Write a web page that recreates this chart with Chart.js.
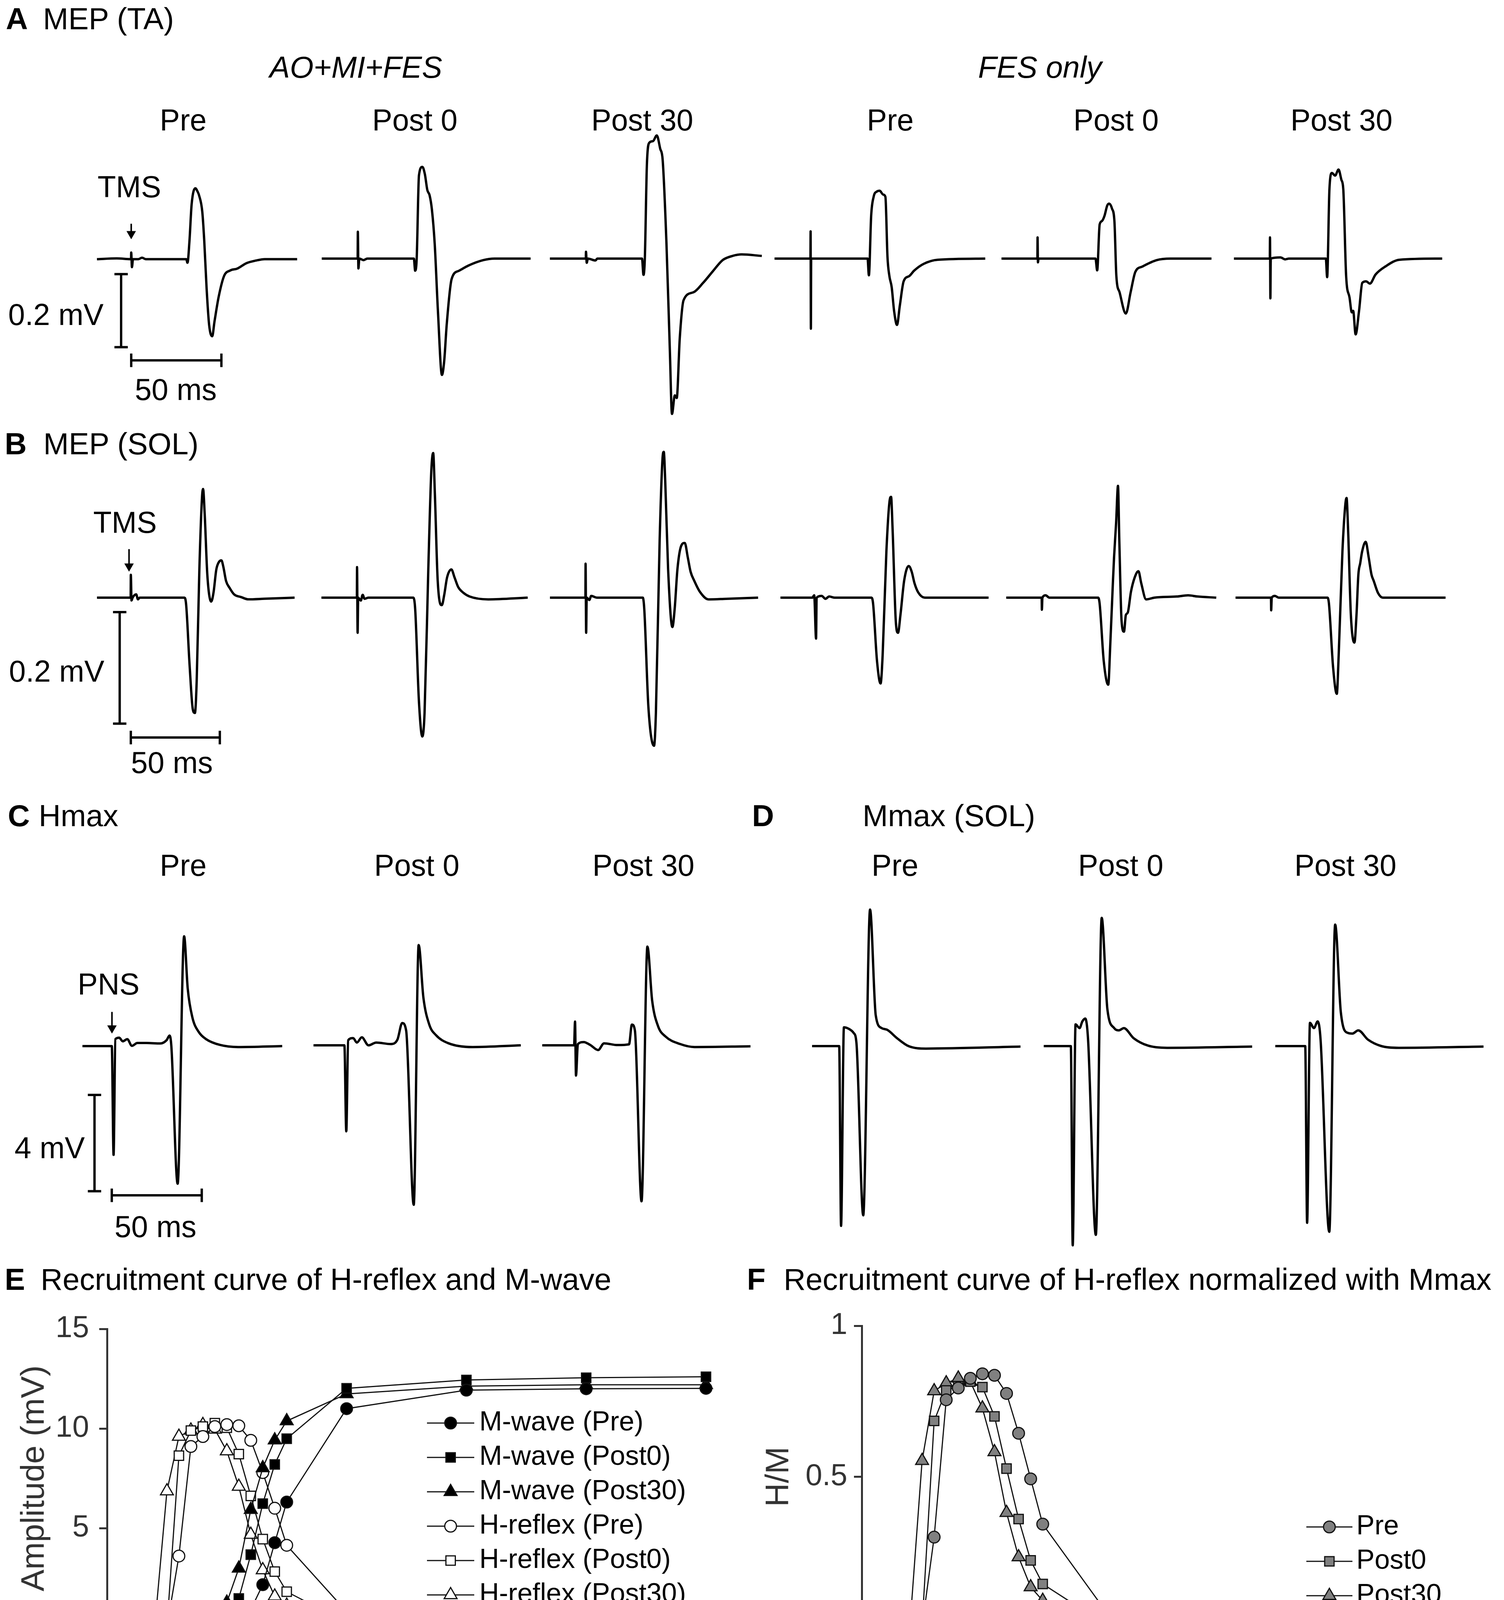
<!DOCTYPE html>
<html>
<head>
<meta charset="utf-8">
<script src="https://cdn.jsdelivr.net/npm/chart.js@4.4.1/dist/chart.umd.min.js"></script>
<style>
  html, body { margin: 0; padding: 0; background: #fff; }
  #page { position: relative; width: 3850px; height: 5625px; overflow: hidden; background: #fff;
          font-family: "Liberation Sans", Arial, Helvetica, sans-serif; }
  #page canvas { position: absolute; }
  .txt { position: absolute; white-space: nowrap; line-height: 1; color: #000; }
</style>
</head>
<body>
<div id="page"></div>
<script>
// ---- traces: [time after stimulus (ms), amplitude (mV)] ----
// A  MEP (TA)
const taAoPre = [[-19,0],[-8,0.002],[-0.1,0],[0,0.018],[0.4,-0.022],[1,0],[4,0],[6,0.004],[8,0],[30.5,0],[31.2,-0.01],[32.3,0.05],[33.5,0.15],[35.6,0.194],[36.8,0.185],[37.6,0.175],[39.4,0.13],[40.5,0.05],[41.8,-0.08],[43.2,-0.18],[44.9,-0.211],[46.2,-0.17],[48.5,-0.103],[51.5,-0.046],[54.9,-0.031],[58.7,-0.026],[63.9,-0.011],[69,-0.004],[74,0],[92,0]];
const taAoPost0 = [[-19,0],[-0.1,0],[0,0.071],[0.3,-0.026],[0.8,0],[3,-0.004],[5,0],[29.5,0],[30.2,-0.032],[31,0],[32.2,0.22],[34,0.242],[35.3,0.223],[36.6,0.181],[37.8,0.167],[39,0.13],[40.5,0.038],[42.2,-0.14],[44.3,-0.307],[45.5,-0.27],[46.8,-0.175],[49.4,-0.054],[53.3,-0.032],[58.4,-0.018],[66.1,-0.004],[72,0],[91,0]];
const taAoPost30 = [[-19,0],[-0.1,0],[0,0.018],[0.4,-0.011],[1,0],[5,-0.005],[6,0],[29.5,0],[30.3,-0.043],[31,0],[32.1,0.25],[33.4,0.306],[35.3,0.31],[37.3,0.325],[39.1,0.29],[40.4,0.26],[42.4,0.039],[44.2,-0.246],[45.3,-0.41],[46.8,-0.361],[47.8,-0.368],[49.4,-0.21],[51.4,-0.11],[56.6,-0.089],[61.7,-0.064],[66.9,-0.033],[72,-0.004],[77.2,0.007],[82,0.011],[92.6,0.007]];
const taFesPre = [[-19,0],[-0.1,0],[0,0.072],[0.15,-0.185],[0.3,0],[30,0],[30.7,-0.044],[31.9,0.113],[33.2,0.163],[34.9,0.177],[36.4,0.179],[38.2,0.169],[39.4,0.163],[40.5,0.004],[41.5,-0.046],[42.7,-0.075],[44,-0.139],[45.5,-0.175],[47,-0.124],[49,-0.06],[52,-0.046],[54.5,-0.032],[59.5,-0.014],[67,-0.003],[92,0]];
const taFesPost0 = [[-19,0],[-0.1,0],[0,0.056],[0.2,-0.01],[0.5,0],[30.5,0],[31.4,-0.031],[32.7,0.09],[33.9,0.099],[35.2,0.112],[36.7,0.14],[37.7,0.145],[39.2,0.132],[40.5,0.097],[41.5,-0.046],[43.2,-0.089],[46.5,-0.145],[49,-0.089],[51.5,-0.035],[55.2,-0.021],[62.8,-0.004],[70,0],[91.6,0]];
const taFesPost30 = [[-19,0],[-0.1,0],[0,0.056],[0.2,-0.105],[0.4,0],[5.5,0.003],[8,-0.002],[10,0],[29.4,0],[30.1,-0.049],[31.3,0.183],[32.6,0.226],[34.3,0.219],[36.1,0.235],[37.6,0.208],[38.6,0.183],[40.1,-0.046],[41.9,-0.103],[43.1,-0.142],[43.8,-0.138],[45.1,-0.2],[46.9,-0.138],[48.6,-0.064],[50.6,-0.06],[52.6,-0.066],[55.6,-0.042],[60.7,-0.021],[68.2,-0.003],[90.7,0]];

// B  MEP (SOL)
const solAoPre = [[-19,0],[-0.1,0],[0,0.041],[0.4,-0.005],[1,0],[3,0.006],[4,-0.003],[5,0],[30,0],[31,-0.01],[33,-0.12],[34.8,-0.2],[36,-0.207],[37,-0.15],[38.5,0.05],[40,0.18],[40.6,0.195],[41.5,0.15],[43,0.04],[45.2,-0.007],[46.5,0.01],[48,0.05],[49.5,0.064],[50.9,0.067],[52,0.055],[53.5,0.03],[55.6,0.017],[58,0.006],[62,0.001],[66,-0.003],[75,-0.002],[92,0]];
const solAoPost0 = [[-19,0],[-0.1,0],[0,0.053],[0.3,-0.061],[0.6,0],[2,-0.005],[3,0.005],[4,-0.002],[6,0],[30,0],[31,-0.02],[33,-0.18],[34.8,-0.241],[36,-0.2],[38,0.05],[39.6,0.22],[40.6,0.251],[41.5,0.18],[43,0.03],[45.2,-0.013],[46.5,0.005],[48,0.035],[50.3,0.049],[52,0.035],[54,0.018],[56.5,0.009],[60,0.002],[70,-0.003],[91,0]];
const solAoPost30 = [[-19,0],[-0.1,0],[0,0.059],[0.3,-0.061],[0.6,0],[2,-0.004],[3,0.003],[6,0],[30.5,0],[31.3,-0.02],[33.5,-0.19],[36.5,-0.257],[37.5,-0.2],[39.5,0.1],[41,0.24],[41.7,0.253],[42.5,0.2],[44,0.05],[46.3,-0.051],[47.5,-0.02],[49,0.05],[51,0.09],[52.9,0.095],[54.5,0.07],[56,0.045],[58,0.029],[61,0.01],[65.6,-0.003],[75,-0.002],[92,0]];
const solFesPre = [[-19,0],[-2,0],[-1,0.004],[0,-0.071],[0.3,0],[3,0.003],[5,-0.002],[7,0.002],[10,0],[29.5,0],[30.4,-0.01],[32.5,-0.11],[34.4,-0.149],[35.5,-0.1],[37.5,0.08],[39.3,0.17],[40,0.175],[40.8,0.12],[42.5,-0.04],[43.7,-0.061],[45,-0.03],[47,0.03],[49.4,0.055],[51,0.045],[52.5,0.025],[54.5,0.009],[58,0],[92,0]];
const solFesPost0 = [[-19,0],[-0.1,0],[0,-0.021],[0.3,0],[2,0.004],[4,0],[30,0],[30.8,-0.01],[33,-0.11],[35.4,-0.151],[36.5,-0.08],[37.8,0.02],[38.5,0.07],[39.6,0.13],[40.6,0.194],[41.3,0.1],[42.5,-0.04],[43.8,-0.059],[44.8,-0.03],[45.8,-0.026],[47.5,0.01],[49.5,0.035],[51.5,0.046],[53,0.025],[55.6,-0.003],[60,0],[72,0.002],[78,0.004],[83,0.002],[93,0]];
const solFesPost30 = [[-19,0],[-0.1,0],[0,-0.022],[0.3,0],[2,0.003],[4,0],[30,0],[30.8,-0.01],[33,-0.12],[35,-0.167],[36,-0.1],[38,0.08],[39.5,0.16],[40.2,0.173],[41,0.12],[42.5,-0.03],[44.4,-0.078],[45.5,-0.03],[46.5,0.04],[47.5,0.06],[48.5,0.08],[50.4,0.097],[52,0.07],[53.5,0.04],[54.7,0.029],[57,0.008],[59.5,0],[93,0]];

// C  Hmax
const hmaxPre = [[-16.8,0],[-0.5,0],[0.5,-4.52],[1.5,0.29],[3.6,0.35],[5.6,0.2],[8.1,0.29],[10.7,0.01],[13.7,0.13],[18.8,0.13],[26.5,0.11],[30,0.25],[31.6,0.44],[32.6,0],[36.1,-5.72],[39.7,4.56],[41.7,2.39],[44.3,1.19],[47.8,0.59],[51.9,0.29],[59.6,0.05],[69.7,-0.04],[94.2,0]];
const hmaxPost0 = [[-16.8,0],[-0.5,0],[0.5,-3.44],[1.5,0.2],[4.1,0.29],[6.1,0.11],[8.7,0.32],[12.2,0],[16.3,0.11],[23.9,0.05],[27.5,0.23],[30,0.89],[32.1,0.59],[36.1,-6.38],[38.7,4.01],[41.2,1.91],[44.3,0.83],[47.8,0.41],[54.5,0.08],[67.2,-0.07],[92.6,0]];
const hmaxPost30 = [[-17.3,0],[-0.5,0],[0,0.95],[0.5,-1.21],[1.5,0.05],[4.6,0.13],[8.1,0.01],[12.2,-0.19],[15.3,0.08],[22.4,0.01],[28.5,0.04],[30,0.83],[31.6,0.59],[35.1,-6.24],[38.2,3.95],[40.7,1.79],[43.8,0.77],[47.8,0.35],[55.5,0.05],[63.1,-0.07],[92.6,-0.04]];

// D  Mmax (SOL)
const mmaxSolPre = [[-15.3,0],[-1,0],[0,-7.19],[1.5,0.75],[4.1,0.69],[6.6,0.53],[8.1,0.14],[11.7,-6.77],[15.3,5.46],[18.3,1.23],[21.4,0.72],[24.4,0.65],[29.5,0.32],[35.6,0],[44.8,-0.1],[94.7,-0.02]];
const mmaxSolPost0 = [[-15.3,0],[-1,0],[0,-7.97],[1.5,0.87],[3.6,0.72],[5.1,0.99],[6.6,1.1],[8.1,0.26],[12.2,-7.55],[15.3,5.13],[18.3,1.47],[21.9,0.72],[24.4,0.63],[27,0.72],[32.1,0.32],[39.7,0.02],[49.9,-0.07],[94.7,-0.02]];
const mmaxSolPost30 = [[-16.8,0],[-1,0],[0,-7.07],[1.5,0.93],[3.6,0.72],[5.6,0.99],[7.1,0.26],[11.7,-7.43],[14.8,4.86],[17.8,1.35],[21.4,0.53],[23.9,0.5],[27,0.63],[32.1,0.26],[39.2,0],[48.4,-0.07],[93.1,-0.02]];

// G  Mmax (TA)
const mmaxTaPre = [[-30.3,0],[-15,0.003],[-1.5,0],[0,0],[0.6,0.976],[1.2,0.3],[2.3,-0.474],[3.5,-0.25],[5.7,0.168],[7.9,-0.323],[10,0.3],[12.7,0.845],[15,0.1],[17,-0.368],[19,-0.12],[21.5,0.02],[23.5,0.03],[25.5,-0.005],[28,-0.012],[33,-0.01],[38,-0.006],[42,-0.012],[44.7,-0.027],[46.5,-0.005],[55,-0.005],[65,-0.004],[75,-0.002],[78.7,-0.001],[80.1,0.008],[82,0.001],[91.4,0.002]];
const mmaxTaPost0 = [[-29.7,0],[-15,0.002],[-1.5,0],[0,0],[0.6,0.976],[1.2,0.3],[2.3,-0.481],[3.5,-0.25],[5.7,0.161],[7.9,-0.327],[10,0.3],[12.7,0.838],[15,0.1],[17,-0.378],[19,-0.13],[21.5,0.018],[23.5,0.027],[25.5,-0.008],[28,-0.014],[33,-0.012],[38,-0.01],[43,-0.014],[46.1,-0.034],[48,-0.01],[55,-0.008],[65,-0.006],[75,-0.004],[78,-0.003],[79.5,0.005],[81,-0.002],[91.4,0]];
const mmaxTaPost30 = [[-30.6,0],[-15,0.002],[-1.5,0],[0,0],[0.6,0.976],[1.2,0.3],[2.3,-0.481],[3.5,-0.25],[5.1,0.161],[7.4,-0.33],[9.5,0.3],[12.2,0.838],[14.5,0.1],[16.7,-0.378],[18.7,-0.13],[21,0.018],[23.8,0.027],[25.5,-0.008],[28,-0.012],[33,-0.012],[38,-0.01],[41,-0.014],[43.6,-0.034],[45.5,-0.01],[55,-0.007],[65,-0.005],[73,-0.005],[76,0.004],[78,-0.002],[91,0.002]];

// ---- recruitment curves ----
const intensity = [3, 4, 5, 6, 7, 8, 9, 10, 11, 12, 13, 14, 15, 20, 30, 40, 50];
const mWavePre    = [null, null, 0.05, 0.1, 0.1, 0.1, 0.15, 0.35, 0.73, 0.91, 2.16, 4.27, 6.31, 11.0, 11.93, 12.0, 12.02];
const mWavePost0  = [null, null, 0.05, 0.1, 0.1, 0.15, 0.2, 0.8, 1.47, 3.67, 6.23, 8.2, 9.49, 12.02, 12.44, 12.55, 12.6];
const mWavePost30 = [null, null, 0.05, 0.1, 0.15, 0.25, 0.5, 1.27, 2.98, 5.93, 8.02, 9.42, 10.38, 11.74, 12.13, 12.2, 12.2];
const hReflexPre    = [0.06, 0.05, 0.05, 3.6, 9.1, 9.6, 10.1, 10.2, 10.14, 9.41, 7.79, 6.0, 4.14, 0.81, 0.19, 0.19, 0.19];
const hReflexPost0  = [null, 0.02, 0.03, 8.64, 9.9, 10.1, 10.27, 10.04, 8.72, 6.62, 4.45, 2.82, 1.81, 0.26, 0.19, 0.17, 0.17];
const hReflexPost30 = [null, 0.19, 6.86, 9.6, 9.91, 10.19, 9.96, 8.87, 7.09, 4.68, 2.9, 1.58, 1.12, 0.19, 0.42, 0.29, 0.34];
const hmPre    = [0.007, 0.005, 0.005, 0.30, 0.755, 0.794, 0.826, 0.841, 0.836, 0.776, 0.644, 0.493, 0.343, 0.067, 0.021, 0.021, 0.023];
const hmPost0  = [null, 0.005, 0.007, 0.685, 0.786, 0.80, 0.815, 0.797, 0.70, 0.527, 0.36, 0.223, 0.145, 0.016, 0.021, 0.018, 0.018];
const hmPost30 = [null, 0.01, 0.553, 0.784, 0.81, 0.826, 0.815, 0.727, 0.582, 0.381, 0.234, 0.135, 0.09, 0.016, 0.028, 0.023, 0.026];

const intensityTicks = [0, 10, 20, 30, 40, 50];
const amplitudeTicks = [0, 5, 10, 15];
const ratioTicks = [0, 0.5, 1];
const conditions = ['Pre', 'Post 0', 'Post 30'];

// scale bars (amplitude, time)
const barTA = { mv: 0.2, ms: 50 };
const barSOL = { mv: 0.2, ms: 50 };
const barH = { mv: 4, ms: 50 };
const barMTA = { mv: 0.5, ms: 50 };

// ---------------------------------------------------------------
const page = document.getElementById('page');
const FONT = '"Liberation Sans", Arial, Helvetica, sans-serif';
Chart.defaults.font.family = FONT;
Chart.defaults.color = '#000';

function text(str, x, y, opt = {}) {
  const d = document.createElement('div');
  d.className = 'txt';
  d.textContent = str;
  d.style.fontSize = (opt.size || 77) + 'px';
  if (opt.bold) d.style.fontWeight = 'bold';
  if (opt.italic) d.style.fontStyle = 'italic';
  const ax = opt.align === 'left' ? '0' : opt.align === 'right' ? '-100%' : '-50%';
  d.style.left = x + 'px';
  d.style.top = y + 'px';
  d.style.transform = `translate(${ax}, -50%)`;
  page.appendChild(d);
}

function addCanvas(left, top, w, h) {
  const c = document.createElement('canvas');
  c.width = w; c.height = h;
  c.style.left = left + 'px'; c.style.top = top + 'px';
  c.style.width = w + 'px'; c.style.height = h + 'px';
  page.appendChild(c);
  return c;
}

function seg(points, width) {
  return {
    data: points.map(([x, y]) => ({ x, y })),
    showLine: true, borderColor: '#000', borderWidth: width || 6,
    pointRadius: 0, pointHoverRadius: 0, clip: false, borderCapStyle: 'butt'
  };
}

// scale bar + stimulus arrow, drawn in the first trace of a panel
function extrasFor(p, bar) {
  const out = [];
  const cx = 18 / p.kx, cy = 18 / p.ky;
  if (p.bar) {
    const b = p.bar, v0 = b.vTop, v1 = b.vTop - bar.mv;
    out.push(seg([[b.t, v0], [b.t, v1]]));
    out.push(seg([[b.t - cx, v0], [b.t + cx, v0]]));
    out.push(seg([[b.t - cx, v1], [b.t + cx, v1]]));
    const t0 = b.tH, t1 = b.tH + bar.ms;
    out.push(seg([[t0, b.vH], [t1, b.vH]]));
    out.push(seg([[t0, b.vH - cy], [t0, b.vH + cy]]));
    out.push(seg([[t1, b.vH - cy], [t1, b.vH + cy]]));
  }
  if (p.arrow) {
    const a = p.arrow, r = 14;
    const headC = a.to + r / p.ky;
    out.push(seg([[a.t, a.from], [a.t, headC]], 4));
    out.push({
      data: [{ x: a.t, y: headC }], showLine: false, pointStyle: 'triangle', rotation: 180,
      pointRadius: r, pointBackgroundColor: '#000', pointBorderWidth: 0, clip: false
    });
  }
  return out;
}

function traceChart(p, pts, sx, extras) {
  const kx = p.kx, ky = p.ky;
  let t0 = pts[0][0] - 2, t1 = pts[pts.length - 1][0] + 2;
  const left = Math.round(sx + t0 * kx);
  t0 = (left - sx) / kx;
  const w = Math.round((t1 - t0) * kx);
  t1 = t0 + w / kx;
  const top = Math.round(p.base - p.vmax * ky);
  const vmax = (p.base - top) / ky;
  const h = Math.round((vmax - p.vmin) * ky);
  const vmin = vmax - h / ky;
  const trace = seg(pts, p.lw);
  trace.cubicInterpolationMode = 'monotone';
  trace.borderJoinStyle = 'round';
  new Chart(addCanvas(left, top, w, h), {
    type: 'scatter',
    data: { datasets: [trace].concat(extras || []) },
    options: {
      responsive: false, animation: false, devicePixelRatio: 1, events: [],
      layout: { padding: 0 },
      scales: {
        x: { type: 'linear', min: t0, max: t1, display: false },
        y: { type: 'linear', min: vmin, max: vmax, display: false }
      },
      plugins: { legend: { display: false }, tooltip: { enabled: false } }
    }
  });
}

const panelA = { base: 662, kx: 4.86, ky: 970, vmin: -0.44, vmax: 0.36, lw: 6,
  stims: [327, 916, 1500, 2075, 2656, 3251],
  bar: { t: -5.6, vTop: -0.041, vH: -0.277, tH: 0 }, arrow: { t: 0, from: 0.097, to: 0.055 } };
const panelB = { base: 1530, kx: 4.8, ky: 1475, vmin: -0.29, vmax: 0.29, lw: 6,
  stims: [326, 914, 1499, 2089, 2667, 3254],
  bar: { t: -6.25, vTop: -0.026, vH: -0.251, tH: 0 }, arrow: { t: -1, from: 0.087, to: 0.047 } };
const panelC = { base: 2676, kx: 4.85, ky: 64, vmin: -6.7, vmax: 5.0, lw: 6,
  stims: [279, 884, 1472],
  bar: { t: -10.1, vTop: -2.03, vH: -6.2, tH: -0.5 }, arrow: { t: -0.4, from: 1.42, to: 0.53 } };
const panelD = { base: 2678, kx: 4.85, ky: 64, vmin: -8.4, vmax: 5.8, lw: 6,
  stims: [2153, 2746, 3346] };
const panelG = { base: 5185, kx: 4.42, ky: 562, vmin: -0.68, vmax: 1.03, lw: 6,
  stims: [327.5, 927.5, 1514],
  bar: { t: -10.5, vTop: -0.052, vH: -0.607, tH: -2.6 }, arrow: { t: -4.2, from: 0.125, to: 0.018 } };

function drawPanel(p, traces, bar) {
  traces.forEach((pts, i) => traceChart(p, pts, p.stims[i], i === 0 && bar ? extrasFor(p, bar) : null));
}

drawPanel(panelA, [taAoPre, taAoPost0, taAoPost30, taFesPre, taFesPost0, taFesPost30], barTA);
drawPanel(panelB, [solAoPre, solAoPost0, solAoPost30, solFesPre, solFesPost0, solFesPost30], barSOL);
drawPanel(panelC, [hmaxPre, hmaxPost0, hmaxPost30], barH);
drawPanel(panelD, [mmaxSolPre, mmaxSolPost0, mmaxSolPost30], null);
drawPanel(panelG, [mmaxTaPre, mmaxTaPost0, mmaxTaPost30], barMTA);

// ---- recruitment curve charts ----
const insideLegend = {
  id: 'insideLegend',
  afterDraw(chart, args, o) {
    const ctx = chart.ctx;
    ctx.save();
    chart.data.datasets.forEach((ds, i) => {
      const y = o.top + i * o.rowHeight;
      ctx.lineWidth = ds.borderWidth;
      ctx.strokeStyle = ds.borderColor;
      ctx.beginPath();
      ctx.moveTo(o.left, y);
      ctx.lineTo(o.left + o.lineLength, y);
      ctx.stroke();
      ctx.fillStyle = ds.pointBackgroundColor;
      ctx.strokeStyle = ds.pointBorderColor;
      ctx.lineWidth = ds.pointBorderWidth;
      Chart.helpers.drawPoint(ctx, { pointStyle: ds.pointStyle, radius: ds.pointRadius,
        borderWidth: ds.pointBorderWidth, rotation: 0 }, o.left + o.lineLength / 2, y);
      ctx.fillStyle = '#000';
      ctx.font = o.fontSize + 'px ' + FONT;
      ctx.textBaseline = 'middle';
      ctx.textAlign = 'left';
      ctx.fillText(ds.label, o.left + o.lineLength + o.gap, y);
    });
    ctx.restore();
  }
};

const RADIUS = { circle: 15, rect: 17, triangle: 19 };
function series(label, values, style, fill) {
  return {
    label,
    data: intensity.map((x, i) => ({ x, y: values[i] })),
    showLine: true, borderColor: '#111', borderWidth: 3,
    pointStyle: style, pointRadius: RADIUS[style], pointHoverRadius: RADIUS[style],
    pointBackgroundColor: fill, pointBorderColor: '#111', pointBorderWidth: 3, clip: false
  };
}

function axis(ticksArr, min, max, title, titlePad, size, tickPad) {
  return {
    type: 'linear', min, max,
    afterBuildTicks: s => { s.ticks = ticksArr.map(v => ({ value: v })); },
    afterFit: s => { if (s.isHorizontal()) s.height = size; else s.width = size; },
    ticks: { color: '#333', font: { size: 77 }, padding: tickPad, maxRotation: 0, autoSkip: false,
             callback: v => String(v) },
    grid: { display: true, drawOnChartArea: false, drawTicks: true, tickLength: 20, color: '#333', lineWidth: 5 },
    border: { display: true, color: '#333', width: 5 },
    title: { display: true, text: title, color: '#333', font: { size: 84 }, padding: titlePad }
  };
}

function curveChart(left, top, w, h, pad, datasets, yTicks, ymax, yTitle, yWidth, yTitlePad, yTickPad, legend) {
  new Chart(addCanvas(left, top, w, h), {
    type: 'scatter',
    data: { datasets },
    options: {
      responsive: false, animation: false, devicePixelRatio: 1, events: [],
      layout: { padding: pad },
      scales: {
        x: axis(intensityTicks, 0, 50, 'Intensity (mA)', { top: 0, bottom: 46 }, 283, 30),
        y: axis(yTicks, 0, ymax, yTitle, { top: yTitlePad, bottom: 0 }, yWidth, yTickPad)
      },
      plugins: { legend: { display: false }, tooltip: { enabled: false }, insideLegend: legend }
    },
    plugins: [insideLegend]
  });
}

curveChart(0, 3330, 1880, 1120, { top: 62, right: 59, left: 0, bottom: 0 }, [
  series('M-wave (Pre)', mWavePre, 'circle', '#000'),
  series('M-wave (Post0)', mWavePost0, 'rect', '#000'),
  series('M-wave (Post30)', mWavePost30, 'triangle', '#000'),
  series('H-reflex (Pre)', hReflexPre, 'circle', '#fff'),
  series('H-reflex (Post0)', hReflexPost0, 'rect', '#fff'),
  series('H-reflex (Post30)', hReflexPost30, 'triangle', '#fff')
], amplitudeTicks, 15, 'Amplitude (mV)', 274, 38, 26,
  { left: 1093, top: 313, rowHeight: 88, lineLength: 121, gap: 13, fontSize: 70 });

curveChart(1900, 3330, 1950, 1120, { top: 64, right: 100, left: 0, bottom: 0 }, [
  series('Pre', hmPre, 'circle', '#808080'),
  series('Post0', hmPost0, 'rect', '#808080'),
  series('Post30', hmPost30, 'triangle', '#808080')
], ratioTicks, 1, 'H/M', 306, 44, 17,
  { left: 1444, top: 579, rowHeight: 88, lineLength: 118, gap: 10, fontSize: 70 });

// ---- text ----
const T = 78;
text('A', 15, 48, { bold: true, align: 'left', size: T });
text('MEP (TA)', 110, 48, { align: 'left', size: T });
text('AO+MI+FES', 911, 172, { italic: true, size: T });
text('FES only', 2662, 172, { italic: true, size: T });
[469, 1062, 1644, 2279, 2857, 3434].forEach((x, i) => text(conditions[i % 3], x, 307));
text('TMS', 331, 478);
text(barTA.mv + ' mV', 265, 805, { align: 'right' });
text(barTA.ms + ' ms', 450, 997);

text('B', 12, 1136, { bold: true, align: 'left', size: T });
text('MEP (SOL)', 111, 1136, { align: 'left', size: T });
text('TMS', 320, 1337);
text(barSOL.mv + ' mV', 267, 1718, { align: 'right' });
text(barSOL.ms + ' ms', 440, 1952);

text('C', 20, 2088, { bold: true, align: 'left', size: T });
text('Hmax', 99, 2088, { align: 'left', size: T });
text('D', 1925, 2088, { bold: true, align: 'left', size: T });
text('Mmax (SOL)', 2208, 2088, { align: 'left', size: T });
[469, 1067, 1647, 2291, 2869, 3444].forEach((x, i) => text(conditions[i % 3], x, 2215));
text('PNS', 278, 2519);
text(barH.mv + ' mV', 217, 2938, { align: 'right' });
text(barH.ms + ' ms', 398, 3140);

text('E', 12, 3275, { bold: true, align: 'left', size: T });
text('Recruitment curve of H-reflex and M-wave', 104, 3275, { align: 'left', size: T });
text('F', 1912, 3275, { bold: true, align: 'left', size: T });
text('Recruitment curve of H-reflex normalized with Mmax', 2006, 3275, { align: 'left', size: T });

text('G', 19, 4505, { bold: true, align: 'left', size: T });
text('Mmax (TA)', 112, 4505, { align: 'left', size: T });
[461, 1100, 1700].forEach((x, i) => text(conditions[i], x, 4655));
text('PNS', 240, 5051);
text(barMTA.mv + ' mV', 265, 5362, { align: 'right' });
text(barMTA.ms + ' ms', 434, 5585);
</script>
</body>
</html>
